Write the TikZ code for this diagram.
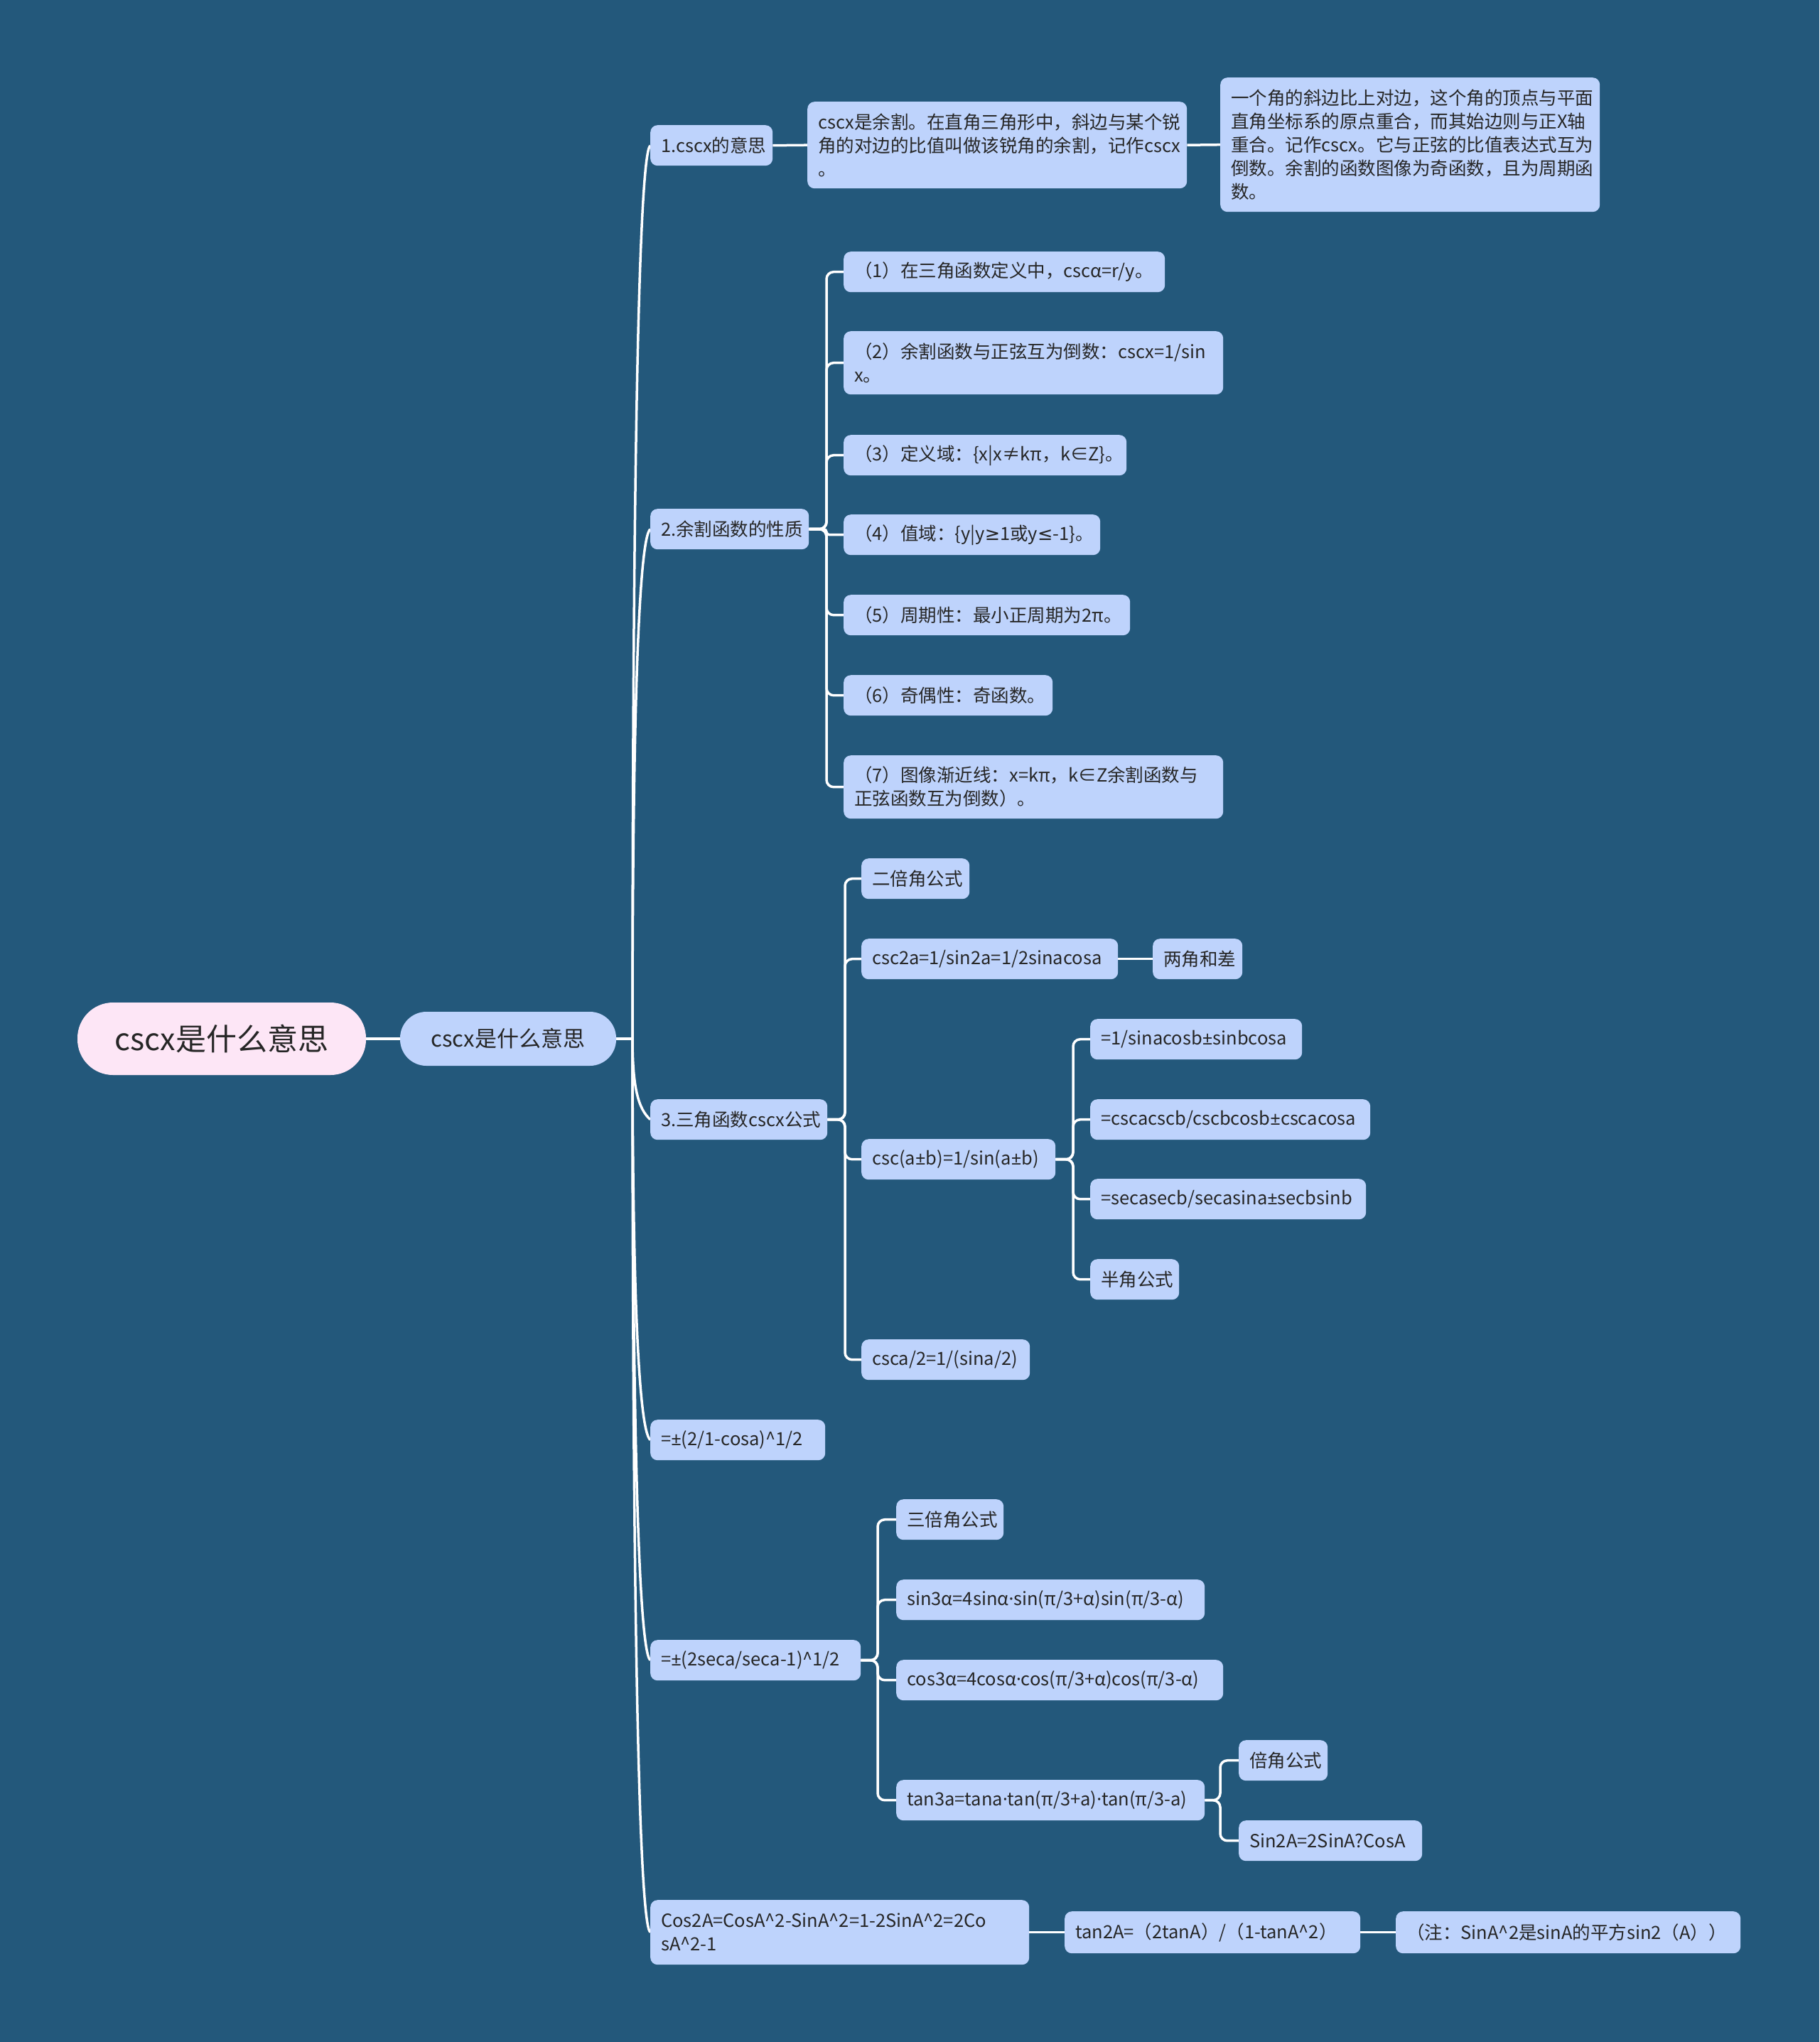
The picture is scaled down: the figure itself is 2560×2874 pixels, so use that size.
\documentclass[tikz,border=0pt]{standalone}
\usepackage{fontspec}
\setmainfont{Noto Sans CJK SC}
\newfontfamily\symf{Noto Sans}
\newfontfamily\djf{DejaVu Sans}
\newcommand\PM{{\symf ±}}
\newcommand\MD{{\symf ·}}
\newcommand\GEQ{{\djf ≥}}
\newcommand\LEQ{{\djf ≤}}
\usetikzlibrary{backgrounds}
\definecolor{bgc}{HTML}{23587B}
\definecolor{nodec}{HTML}{BED3FC}
\definecolor{rootc}{HTML}{FDE6F6}
\definecolor{txtc}{HTML}{262626}
\hyphenpenalty=10000
\exhyphenpenalty=10000
\begin{document}
\begin{tikzpicture}[x=1pt,y=-1pt,
  box/.style={fill=nodec, rounded corners=10pt, anchor=north west, inner xsep=15pt, inner ysep=0pt, align=left, text=txtc, font=\fontsize{25.5}{33}\selectfont, minimum height=57pt},
  conn/.style={draw=white, line width=3.5pt},
  elb/.style={conn, rounded corners=10pt}]
\useasboundingbox (0,0) rectangle (2560,2874);

% root and first level
\node[fill=rootc, rounded corners=50pt, minimum width=406pt, minimum height=102pt, inner sep=0pt, text=txtc, font=\fontsize{43}{50}\selectfont] (root) at (312,1462) {cscx是什么意思};
\node[fill=nodec, rounded corners=37pt, minimum width=304pt, minimum height=76pt, inner sep=0pt, text=txtc, font=\fontsize{31}{38}\selectfont] (L1) at (715,1462) {cscx是什么意思};
\coordinate (hub) at (890,1462);

% branch 1
\node[box, text width=142pt] (C) at (915,176) {1.cscx的意思};
\node[box, text width=504pt, minimum height=122pt] (D) at (1136,143) {cscx是余割。在直角三角形中，斜边与某个锐\\角的对边的比值叫做该锐角的余割，记作cscx\\。};
\node[box, text width=504pt, minimum height=189pt] (E) at (1717,109) {一个角的斜边比上对边，这个角的顶点与平面\\直角坐标系的原点重合，而其始边则与正X轴\\重合。记作cscx。它与正弦的比值表达式互为\\倒数。余割的函数图像为奇函数，且为周期函\\数。};

% branch 2
\node[box, text width=193pt] (F) at (915,716) {2.余割函数的性质};
\coordinate (gb) at (1163,0);
\node[box, text width=422pt] (G1) at (1187,354) {（1）在三角函数定义中，cscα=r/y。};
\node[box, text width=504pt, minimum height=89pt] (G2) at (1187,466) {（2）余割函数与正弦互为倒数：cscx=1/sin\\x。};
\node[box, text width=368pt] (G3) at (1187,612) {（3）定义域：\{x|x≠kπ，k∈Z\}。};
\node[box, text width=331pt] (G4) at (1187,724) {（4）值域：\{y|y\GEQ1或y\LEQ-1\}。};
\node[box, text width=373pt] (G5) at (1187,837) {（5）周期性：最小正周期为2π。};
\node[box, text width=264pt] (G6) at (1187,950) {（6）奇偶性：奇函数。};
\node[box, text width=504pt, minimum height=89pt] (G7) at (1187,1063) {（7）图像渐近线：x=kπ，k∈Z余割函数与\\正弦函数互为倒数）。};

% branch 3
\node[box, text width=219pt] (H) at (915,1547) {3.三角函数cscx公式};
\coordinate (ib) at (1189,0);
\node[box, text width=122pt] (I1) at (1212,1208) {二倍角公式};
\node[box, text width=331pt] (I2) at (1212,1321) {csc2a=1/sin2a=1/2sinacosa};
\node[box, text width=96pt] (I2b) at (1622,1321) {两角和差};
\node[box, text width=243pt] (I3) at (1212,1603) {csc(a\PM b)=1/sin(a\PM b)};
\node[box, text width=207pt] (I4) at (1212,1885) {csca/2=1/(sina/2)};
\coordinate (jb) at (1510,0);
\node[box, text width=268pt] (J1) at (1534,1434) {=1/sinacosb\PM sinbcosa};
\node[box, text width=364pt] (J2) at (1534,1547) {=cscacscb/cscbcosb\PM cscacosa};
\node[box, text width=358pt] (J3) at (1534,1659) {=secasecb/secasina\PM secbsinb};
\node[box, text width=95pt] (J4) at (1534,1772) {半角公式};

% branch 4, 5
\node[box, text width=216pt] (K) at (915,1998) {=\PM(2/1-cosa)\textasciicircum{}1/2};
\node[box, text width=266pt] (L) at (915,2308) {=\PM(2seca/seca-1)\textasciicircum{}1/2};
\coordinate (mb) at (1235,0);
\node[box, text width=121pt] (M1) at (1261,2110) {三倍角公式};
\node[box, text width=404pt] (M2) at (1261,2223) {sin3α=4sinα\MD sin(π/3+α)sin(π/3-α)};
\node[box, text width=430pt] (M3) at (1261,2336) {cos3α=4cosα\MD cos(π/3+α)cos(π/3-α)};
\node[box, text width=404pt] (M4) at (1261,2505) {tan3a=tana\MD tan(π/3+a)\MD tan(π/3-a)};
\coordinate (nb) at (1717,0);
\node[box, text width=95pt] (N1) at (1743,2449) {倍角公式};
\node[box, text width=228pt] (N2) at (1743,2562) {Sin2A=2SinA?CosA};

% branch 6
\node[box, text width=503pt, minimum height=91pt] (O) at (915,2674) {Cos2A=CosA\textasciicircum{}2-SinA\textasciicircum{}2=1-2SinA\textasciicircum{}2=2Co\\sA\textasciicircum{}2-1};
\node[box, text width=386pt, minimum height=59pt] (P) at (1498,2690) {tan2A=（2tanA）/（1-tanA\textasciicircum{}2）};
\node[box, text width=455pt, minimum height=59pt] (Q) at (1964,2690) {（注：SinA\textasciicircum{}2是sinA的平方sin2（A））};

\begin{scope}[on background layer]
\fill[bgc] (0,0) rectangle (2560,2874);
\draw[conn, line width=4pt] (root.east) -- (L1.west);
\draw[conn, line width=4pt] (L1.east) -- (hub);
\draw[conn] (hub) .. controls (890,708) and (898,219.5) .. (C.west);
\draw[conn] (hub) .. controls (890,1032) and (898,759) .. (F.west);
\draw[conn] (hub) .. controls (890,1530) and (898,1560.5) .. (H.west);
\draw[conn] (hub) .. controls (890,1801) and (898,2011.5) .. (K.west);
\draw[conn] (hub) .. controls (890,1987) and (898,2321.5) .. (L.west);
\draw[conn] (hub) .. controls (890,2217) and (898,2704.5) .. (O.west);
\draw[conn] (C.east) -- (D.west);
\draw[conn] (D.east) -- (E.west);
\foreach \c in {G1,G2,G3,G5,G6,G7} \draw[elb] (F.east) -- (F.east -| gb) |- (\c.west);
\draw[conn, rounded corners=4pt] (F.east) -- (F.east -| gb) |- (G4.west);
\foreach \c in {I1,I2,I3,I4} \draw[elb] (H.east) -- (H.east -| ib) |- (\c.west);
\draw[conn] (I2.east) -- (I2b.west);
\foreach \c in {J1,J2,J3,J4} \draw[elb] (I3.east) -- (I3.east -| jb) |- (\c.west);
\foreach \c in {M1,M2,M3,M4} \draw[elb] (L.east) -- (L.east -| mb) |- (\c.west);
\foreach \c in {N1,N2} \draw[elb] (M4.east) -- (M4.east -| nb) |- (\c.west);
\draw[conn] (O.east) -- (P.west);
\draw[conn] (P.east) -- (Q.west);
\end{scope}
\end{tikzpicture}
\end{document}
